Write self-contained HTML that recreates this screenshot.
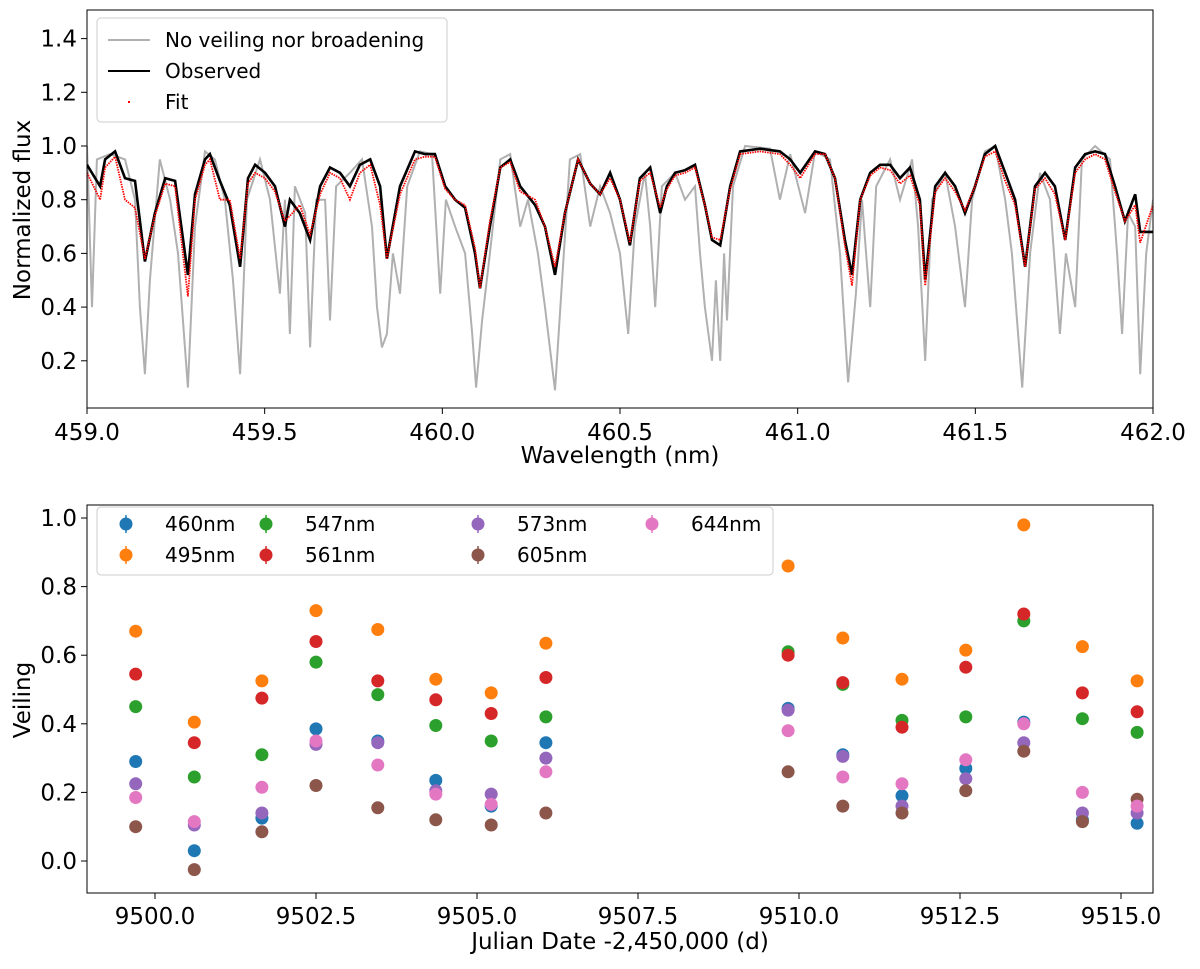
<!DOCTYPE html>
<html><head><meta charset="utf-8"><style>
body{margin:0;background:#fff;}
svg text{font-family:"DejaVu Sans","Liberation Sans",sans-serif;}
</style></head><body>
<svg id="s" width="1200" height="964" xmlns="http://www.w3.org/2000/svg">
<g id="topPanel"></g>
<g id="botPanel"></g>
</svg>
<script>
// ---------- Top panel data ----------
const obsWave=[459.000,459.037,459.051,459.079,459.107,459.135,459.163,459.191,459.220,459.248,459.284,459.304,459.332,459.346,459.374,459.402,459.431,459.453,459.473,459.501,459.529,459.557,459.571,459.599,459.628,459.656,459.684,459.712,459.740,459.768,459.797,459.825,459.844,459.881,459.923,459.951,459.979,460.008,460.036,460.064,460.092,460.106,460.134,460.163,460.191,460.219,460.261,460.289,460.317,460.345,460.382,460.416,460.444,460.472,460.500,460.528,460.556,460.585,460.613,460.632,460.655,460.683,460.711,460.739,460.759,460.782,460.810,460.838,460.894,460.950,460.979,461.007,461.049,461.077,461.105,461.133,461.153,461.176,461.204,461.232,461.260,461.288,461.316,461.344,461.359,461.387,461.415,461.443,461.471,461.499,461.527,461.556,461.584,461.612,461.640,461.668,461.696,461.724,461.753,461.781,461.809,461.837,461.865,461.893,461.921,461.950,461.964,462.000];
const obsFlux=[0.93,0.85,0.95,0.98,0.88,0.87,0.57,0.75,0.88,0.87,0.52,0.82,0.95,0.97,0.87,0.78,0.55,0.88,0.93,0.90,0.85,0.70,0.80,0.75,0.65,0.85,0.92,0.90,0.85,0.93,0.95,0.85,0.58,0.85,0.98,0.97,0.97,0.85,0.80,0.77,0.60,0.47,0.70,0.92,0.95,0.85,0.78,0.70,0.52,0.75,0.95,0.86,0.82,0.90,0.80,0.63,0.88,0.92,0.75,0.85,0.90,0.91,0.93,0.78,0.65,0.63,0.85,0.98,0.99,0.98,0.95,0.90,0.98,0.97,0.88,0.65,0.52,0.80,0.90,0.93,0.93,0.88,0.92,0.80,0.50,0.85,0.90,0.85,0.75,0.85,0.97,1.00,0.90,0.80,0.55,0.85,0.90,0.85,0.65,0.92,0.97,0.98,0.97,0.85,0.72,0.82,0.68,0.68];
const fitFlux=[0.90,0.80,0.92,0.96,0.80,0.77,0.58,0.74,0.86,0.85,0.44,0.80,0.93,0.95,0.80,0.80,0.58,0.86,0.90,0.88,0.83,0.72,0.74,0.78,0.67,0.82,0.90,0.88,0.80,0.90,0.93,0.78,0.58,0.82,0.95,0.96,0.96,0.84,0.80,0.78,0.62,0.47,0.72,0.92,0.94,0.83,0.80,0.70,0.55,0.75,0.95,0.86,0.82,0.88,0.80,0.64,0.87,0.90,0.77,0.84,0.89,0.90,0.92,0.78,0.66,0.65,0.84,0.97,0.98,0.97,0.93,0.88,0.97,0.97,0.88,0.63,0.48,0.80,0.89,0.92,0.91,0.86,0.89,0.78,0.48,0.83,0.88,0.83,0.76,0.85,0.96,0.98,0.87,0.78,0.55,0.84,0.88,0.82,0.65,0.90,0.95,0.97,0.95,0.83,0.72,0.78,0.64,0.78];
const rawWave=[459.000,459.014,459.028,459.065,459.107,459.135,459.149,459.163,459.177,459.205,459.234,459.256,459.284,459.304,459.332,459.360,459.388,459.411,459.431,459.450,459.487,459.515,459.543,459.557,459.571,459.585,459.614,459.628,459.645,459.670,459.684,459.701,459.740,459.774,459.802,459.816,459.830,459.844,459.861,459.881,459.901,459.937,459.971,459.994,460.010,460.036,460.064,460.084,460.095,460.112,460.134,460.163,460.191,460.219,460.241,460.269,460.289,460.317,460.337,460.359,460.388,460.416,460.444,460.472,460.500,460.523,460.542,460.570,460.585,460.599,460.618,460.655,460.683,460.711,460.725,460.739,460.759,460.770,460.782,460.793,460.801,460.818,460.852,460.922,460.950,460.979,461.021,461.049,461.091,461.119,461.142,461.164,461.181,461.204,461.221,461.260,461.288,461.322,461.339,461.359,461.378,461.415,461.443,461.471,461.491,461.527,461.556,461.584,461.603,461.632,461.654,461.682,461.710,461.738,461.755,461.781,461.800,461.837,461.879,461.899,461.913,461.930,461.950,461.964,461.981,462.000];
const rawFlux=[1.0,0.40,0.95,0.97,0.95,0.80,0.40,0.15,0.50,0.95,0.80,0.60,0.10,0.70,0.98,0.95,0.80,0.50,0.15,0.80,0.95,0.80,0.45,0.80,0.30,0.85,0.75,0.25,0.80,0.80,0.35,0.85,0.90,0.95,0.70,0.40,0.25,0.30,0.60,0.45,0.85,0.98,0.97,0.45,0.80,0.70,0.60,0.30,0.10,0.35,0.60,0.95,0.97,0.70,0.80,0.60,0.40,0.09,0.50,0.95,0.97,0.70,0.85,0.75,0.60,0.30,0.70,0.90,0.70,0.40,0.85,0.90,0.80,0.85,0.60,0.40,0.20,0.50,0.20,0.60,0.35,0.85,1.0,0.99,0.80,0.97,0.75,0.98,0.95,0.60,0.12,0.45,0.80,0.40,0.85,0.95,0.80,0.95,0.70,0.20,0.80,0.90,0.70,0.40,0.80,0.98,1.00,0.80,0.60,0.10,0.60,0.90,0.80,0.30,0.60,0.40,0.95,1.0,0.95,0.60,0.30,0.75,0.70,0.15,0.60,0.80];
const topXTicks=[459.0,459.5,460.0,460.5,461.0,461.5,462.0];
const topXLabels=["459.0","459.5","460.0","460.5","461.0","461.5","462.0"];
const topYTicks=[0.2,0.4,0.6,0.8,1.0,1.2,1.4];
const topYLabels=["0.2","0.4","0.6","0.8","1.0","1.2","1.4"];
// ---------- Bottom panel data ----------
const dates=[9499.70,9500.61,9501.66,9502.50,9503.46,9504.36,9505.22,9506.07,9509.83,9510.68,9511.60,9512.59,9513.49,9514.40,9515.25];
const bandNames=["460nm","495nm","547nm","561nm","573nm","605nm","644nm"];
const v460=[0.29,0.03,0.125,0.385,0.35,0.235,0.16,0.345,0.445,0.31,0.19,0.27,0.405,0.12,0.11];
const v495=[0.67,0.405,0.525,0.73,0.675,0.53,0.49,0.635,0.86,0.65,0.53,0.615,0.98,0.625,0.525];
const v547=[0.45,0.245,0.31,0.58,0.485,0.395,0.35,0.42,0.61,0.515,0.41,0.42,0.70,0.415,0.375];
const v561=[0.545,0.345,0.475,0.64,0.525,0.47,0.43,0.535,0.60,0.52,0.39,0.565,0.72,0.49,0.435];
const v573=[0.225,0.105,0.14,0.34,0.345,0.205,0.195,0.30,0.44,0.305,0.16,0.24,0.345,0.14,0.14];
const v605=[0.10,-0.025,0.085,0.22,0.155,0.12,0.105,0.14,0.26,0.16,0.14,0.205,0.32,0.115,0.18];
const v644=[0.185,0.115,0.215,0.35,0.28,0.195,0.165,0.26,0.38,0.245,0.225,0.295,0.40,0.20,0.16];
const botXTicks=[9500,9502.5,9505,9507.5,9510,9512.5,9515];
const botXLabels=["9500.0","9502.5","9505.0","9507.5","9510.0","9512.5","9515.0"];
const botYTicks=[0,0.2,0.4,0.6,0.8,1.0];
const botYLabels=["0.0","0.2","0.4","0.6","0.8","1.0"];

const NS="http://www.w3.org/2000/svg";
function mk(parent,tag,attrs,text){const e=document.createElementNS(NS,tag);for(const k in attrs)e.setAttribute(k,attrs[k]);if(text!==undefined)e.textContent=text;parent.appendChild(e);return e;}
const TF=23, AF=23, LF=20;

// top axes
const TL=87,TR=1153,TT=10,TB=408;
const tx=w=>TL+(w-459)/(462-459)*(TR-TL);
const ty=v=>146+(1-v)*268.5;
const topG=document.getElementById('topPanel');
function linePath(xs,ys,fx,fy){const n=Math.min(xs.length,ys.length);let d='';for(let i=0;i<n;i++){d+=(i?'L':'M')+fx(xs[i]).toFixed(1)+','+fy(ys[i]).toFixed(1);}return d;}
const clip=mk(topG,'clipPath',{id:'ct'});mk(clip,'rect',{x:TL,y:TT,width:TR-TL,height:TB-TT});
let p=mk(topG,'path',{d:linePath(rawWave,rawFlux,tx,ty),fill:'none',stroke:'#b0b0b0','stroke-width':2,'clip-path':'url(#ct)'});


p=mk(topG,'path',{d:linePath(obsWave,obsFlux,tx,ty),fill:'none',stroke:'#000','stroke-width':2.6,'clip-path':'url(#ct)'});


p=mk(topG,'path',{d:linePath(obsWave,fitFlux,tx,ty),fill:'none',stroke:'#f00','stroke-width':1.8,'stroke-dasharray':'1.5 1','clip-path':'url(#ct)'});


let fr=mk(topG,'rect',{x:TL,y:TT,width:TR-TL,height:TB-TT,fill:'none',stroke:'#000','stroke-width':1});


topXTicks.forEach((tk,i)=>{const x=tx(tk);mk(topG,'line',{x1:x,x2:x,y1:TB,y2:TB+6,stroke:'#000'});
 const l=mk(topG,'text',{x:x,y:TB+32,'font-size':TF,'text-anchor':'middle'},topXLabels[i]);
 
 });
topYTicks.forEach((tk,i)=>{const y=ty(tk);mk(topG,'line',{x1:TL-6,x2:TL,y1:y,y2:y,stroke:'#000'});
 const l=mk(topG,'text',{x:TL-10,y:y+8,'font-size':TF,'text-anchor':'end'},topYLabels[i]);
 
 });
let tt=mk(topG,'text',{x:620,y:463,'font-size':AF,'text-anchor':'middle'},'Wavelength (nm)');


tt=mk(topG,'text',{x:30,y:210,'font-size':AF,'text-anchor':'middle',transform:'rotate(-90 30 210)'},'Normalized flux');


// top legend
const lg=mk(topG,'g',{});


mk(lg,'rect',{x:97,y:18,width:350,height:104,rx:4,fill:'#fff','fill-opacity':0.85,stroke:'#ccc'});
mk(lg,'line',{x1:108,x2:150,y1:40,y2:40,stroke:'#b0b0b0','stroke-width':2});
mk(lg,'line',{x1:108,x2:150,y1:71,y2:71,stroke:'#000','stroke-width':2});
mk(lg,'rect',{x:128,y:101,width:2,height:2,fill:'#f00'});
[['No veiling nor broadening',47],['Observed',78],['Fit',109]].forEach(a=>{const e=mk(lg,'text',{x:165,y:a[1],'font-size':LF},a[0]);
 
 });

// bottom axes
const BL=87,BR=1153,BT=505,BB=893;
const bx=d=>155+(d-9500)*64.4;
const by=v=>861-v*343;
const botG=document.getElementById('botPanel');
const colors=['#1f77b4','#ff7f0e','#2ca02c','#d62728','#9467bd','#8c564b','#e377c2'];
const series=[v460,v495,v547,v561,v573,v605,v644];
fr=mk(botG,'rect',{x:BL,y:BT,width:BR-BL,height:BB-BT,fill:'none',stroke:'#000','stroke-width':1});


series.forEach((s,si)=>{s.forEach((v,i)=>{const c=mk(botG,'circle',{cx:bx(dates[i]).toFixed(1),cy:by(v).toFixed(1),r:6.5,fill:colors[si]});
 
 });});
botXTicks.forEach((tk,i)=>{const x=bx(tk);mk(botG,'line',{x1:x,x2:x,y1:BB,y2:BB+6,stroke:'#000'});
 const l=mk(botG,'text',{x:x,y:BB+31,'font-size':TF,'text-anchor':'middle'},botXLabels[i]);
 
 });
botYTicks.forEach((tk,i)=>{const y=by(tk);mk(botG,'line',{x1:BL-6,x2:BL,y1:y,y2:y,stroke:'#000'});
 const l=mk(botG,'text',{x:BL-10,y:y+8,'font-size':TF,'text-anchor':'end'},botYLabels[i]);
 
 });
tt=mk(botG,'text',{x:620,y:949,'font-size':AF,'text-anchor':'middle'},'Julian Date -2,450,000 (d)');


tt=mk(botG,'text',{x:30,y:700,'font-size':AF,'text-anchor':'middle',transform:'rotate(-90 30 700)'},'Veiling');


const lg2=mk(botG,'g',{});


mk(lg2,'rect',{x:97,y:507,width:676,height:68,rx:4,fill:'#fff','fill-opacity':0.85,stroke:'#ccc'});
const colX=[126,266,478,652];
bandNames.forEach((n,i)=>{const col=Math.floor(i/2),row=i%2;const x=colX[col],y=524+row*31;
 mk(lg2,'line',{x1:x,x2:x,y1:y-9,y2:y+9,stroke:colors[i],'stroke-width':1.5});
 mk(lg2,'circle',{cx:x,cy:y,r:6.5,fill:colors[i]});
 const e=mk(lg2,'text',{x:x+39,y:y+7,'font-size':LF},n);
 
 });
</script>
</body></html>
